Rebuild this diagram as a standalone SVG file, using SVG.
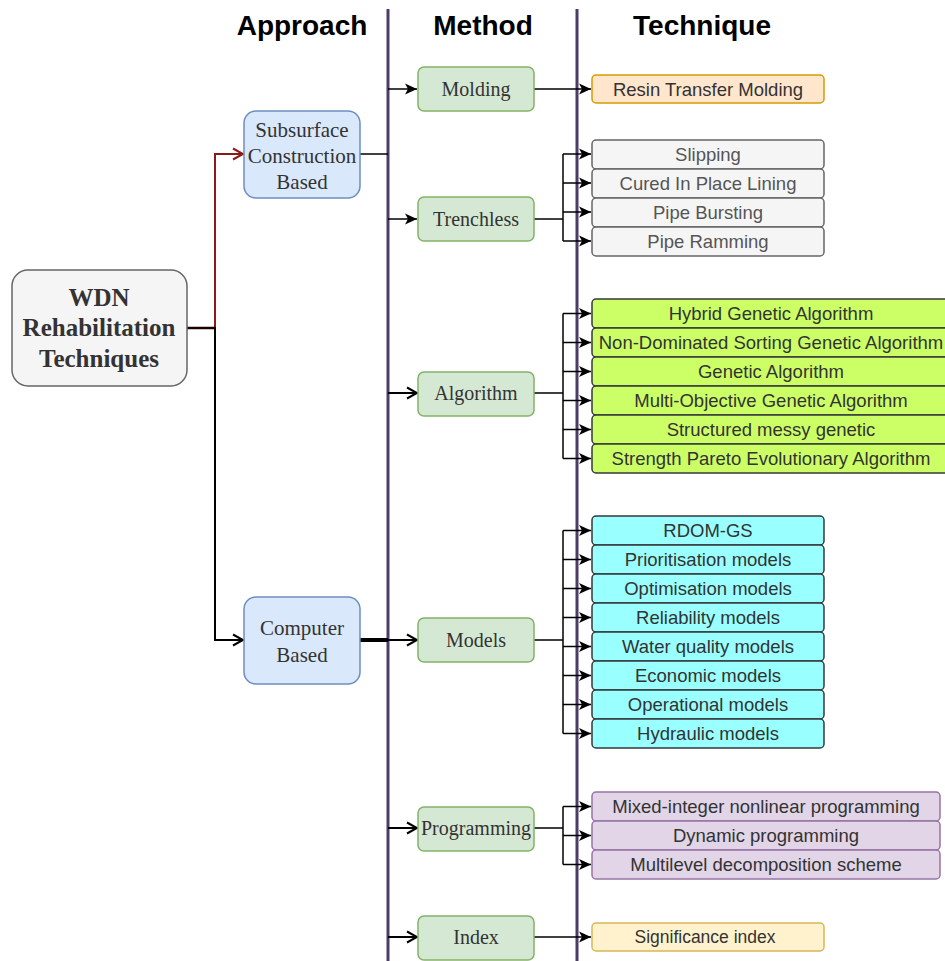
<svg xmlns="http://www.w3.org/2000/svg" width="945" height="961" viewBox="0 0 945 961">
<defs>
<style>
.hdr{font-family:"Liberation Sans",Arial,sans-serif;font-weight:bold;font-size:28px;fill:#000;text-anchor:middle}
.ser{font-family:"Liberation Serif","Times New Roman",serif;fill:#333;text-anchor:middle}
.tech{font-family:"Liberation Sans",Arial,sans-serif;font-size:18.5px;fill:#333;text-anchor:middle}
.app{fill:#dae8fc;stroke:#6c8ebf;stroke-width:1.5}
.meth{fill:#d5e8d4;stroke:#82b366;stroke-width:1.5}
.gray{fill:#f5f5f5;stroke:#666;stroke-width:1.5}
.green{fill:#ccff66;stroke:#36393d;stroke-width:1.5}
.cyan{fill:#99ffff;stroke:#36393d;stroke-width:1.5}
.purp{fill:#e1d5e7;stroke:#9673a6;stroke-width:1.5}
.lane{stroke:#4d3c66;stroke-width:3;fill:none}
.thin{stroke:#000;stroke-width:1.5;fill:none}
.thick{stroke:#000;stroke-width:2;fill:none}
</style>
<marker id="fa" markerUnits="userSpaceOnUse" markerWidth="14" markerHeight="14" viewBox="0 0 14 14" refX="13" refY="7" orient="auto">
<path d="M1,1.5 L13,7 L1,12.5 L4,7 Z" fill="#000"/>
</marker>
<marker id="oa" markerUnits="userSpaceOnUse" markerWidth="14" markerHeight="14" viewBox="0 0 14 14" refX="12" refY="7" orient="auto">
<path d="M2,1.5 L12,7 L2,12.5" fill="none" stroke="#000" stroke-width="2"/>
</marker>
<marker id="oar" markerUnits="userSpaceOnUse" markerWidth="14" markerHeight="14" viewBox="0 0 14 14" refX="12" refY="7" orient="auto">
<path d="M2,1.5 L12,7 L2,12.5" fill="none" stroke="#8b1a1a" stroke-width="2"/>
</marker>
</defs>
<rect width="945" height="961" fill="#fff"/>

<g id="headers">
<text class="hdr" x="302" y="35">Approach</text>
<text class="hdr" x="483" y="35">Method</text>
<text class="hdr" x="702" y="35">Technique</text>
</g>

<g id="lanes">
<line class="lane" x1="388" y1="9" x2="388" y2="961"/>
<line class="lane" x1="577" y1="9" x2="577" y2="961"/>
</g>

<g id="connectors">
<path d="M187,328 H215 V154 H243" fill="none" stroke="#8b1a1a" stroke-width="2" marker-end="url(#oar)"/>
<path d="M187,328 H215 V640 H243" class="thick" marker-end="url(#oa)"/>
<line x1="187" y1="328" x2="215" y2="328" stroke="#1a0000" stroke-width="2.5"/>
<line class="thin" x1="360" y1="154" x2="388" y2="154"/>
<line x1="360" y1="640" x2="388" y2="640" stroke="#000" stroke-width="4"/>
<line class="thin" x1="388" y1="89" x2="417" y2="89" marker-end="url(#fa)"/>
<line class="thin" x1="388" y1="219" x2="417" y2="219" marker-end="url(#fa)"/>
<line class="thick" x1="388" y1="393" x2="417" y2="393" marker-end="url(#oa)"/>
<line class="thick" x1="388" y1="640" x2="417" y2="640" marker-end="url(#oa)"/>
<line class="thick" x1="388" y1="828" x2="417" y2="828" marker-end="url(#oa)"/>
<line class="thick" x1="388" y1="937" x2="417" y2="937" marker-end="url(#oa)"/>
<line class="thin" x1="534" y1="89" x2="591" y2="89" marker-end="url(#fa)"/>
<line class="thin" x1="534" y1="937" x2="591" y2="937" marker-end="url(#fa)"/>
<path class="thin" d="M534,219 H563"/>
<path class="thin" d="M563,154 V241"/>
<path class="thin" d="M563,154 H591" marker-end="url(#fa)"/>
<path class="thin" d="M563,183 H591" marker-end="url(#fa)"/>
<path class="thin" d="M563,212 H591" marker-end="url(#fa)"/>
<path class="thin" d="M563,241 H591" marker-end="url(#fa)"/>
<path class="thin" d="M534,393 H563 M563,313.5 V458.5"/>
<path class="thin" d="M563,313.5 H591" marker-end="url(#fa)"/>
<path class="thin" d="M563,342.5 H591" marker-end="url(#fa)"/>
<path class="thin" d="M563,371.5 H591" marker-end="url(#fa)"/>
<path class="thin" d="M563,400.5 H591" marker-end="url(#fa)"/>
<path class="thin" d="M563,429.5 H591" marker-end="url(#fa)"/>
<path class="thin" d="M563,458.5 H591" marker-end="url(#fa)"/>
<path class="thin" d="M534,640 H563 M563,530.5 V733.5"/>
<path class="thin" d="M563,530.5 H591" marker-end="url(#fa)"/>
<path class="thin" d="M563,559.5 H591" marker-end="url(#fa)"/>
<path class="thin" d="M563,588.5 H591" marker-end="url(#fa)"/>
<path class="thin" d="M563,617.5 H591" marker-end="url(#fa)"/>
<path class="thin" d="M563,646.5 H591" marker-end="url(#fa)"/>
<path class="thin" d="M563,675.5 H591" marker-end="url(#fa)"/>
<path class="thin" d="M563,704.5 H591" marker-end="url(#fa)"/>
<path class="thin" d="M563,733.5 H591" marker-end="url(#fa)"/>
<path class="thin" d="M534,828 H563 M563,806.5 V864.5"/>
<path class="thin" d="M563,806.5 H591" marker-end="url(#fa)"/>
<path class="thin" d="M563,835.5 H591" marker-end="url(#fa)"/>
<path class="thin" d="M563,864.5 H591" marker-end="url(#fa)"/>
</g>

<g id="wdn">
<rect x="12" y="270" width="175" height="116" rx="16" fill="#f5f5f5" stroke="#666" stroke-width="1.5"/>
<text class="ser" x="99" y="306" font-size="25" font-weight="bold">WDN</text>
<text class="ser" x="99" y="336" font-size="25" font-weight="bold">Rehabilitation</text>
<text class="ser" x="99" y="367" font-size="25" font-weight="bold">Techniques</text>
</g>

<g id="subsurface">
<rect class="app" x="244" y="111" width="116" height="87" rx="12"/>
<text class="ser" x="302" y="137" font-size="21">Subsurface</text>
<text class="ser" x="302" y="163" font-size="21">Construction</text>
<text class="ser" x="302" y="189" font-size="21">Based</text>
</g>

<g id="computer">
<rect class="app" x="244" y="597" width="116" height="87" rx="12"/>
<text class="ser" x="302" y="635" font-size="21">Computer</text>
<text class="ser" x="302" y="662" font-size="21">Based</text>
</g>

<g id="molding"><rect class="meth" x="418" y="67" width="116" height="44" rx="6"/><text class="ser" x="476" y="96" font-size="20">Molding</text></g>
<g id="trenchless"><rect class="meth" x="418" y="197" width="116" height="44" rx="6"/><text class="ser" x="476" y="226" font-size="20">Trenchless</text></g>
<g id="algorithm"><rect class="meth" x="418" y="372" width="116" height="44" rx="6"/><text class="ser" x="476" y="400" font-size="20">Algorithm</text></g>
<g id="models"><rect class="meth" x="418" y="618" width="116" height="44" rx="6"/><text class="ser" x="476" y="647" font-size="20">Models</text></g>
<g id="programming"><rect class="meth" x="418" y="807" width="116" height="44" rx="6"/><text class="ser" x="476" y="835" font-size="20">Programming</text></g>
<g id="index"><rect class="meth" x="418" y="916" width="116" height="44" rx="6"/><text class="ser" x="476" y="944" font-size="20">Index</text></g>

<g id="resin"><rect x="592" y="75" width="232" height="28" rx="4" fill="#ffe6cc" stroke="#d79b00" stroke-width="1.5"/><text class="tech" x="708" y="95.5">Resin Transfer Molding</text></g>

<g id="slipping"><rect class="gray" x="592" y="140" width="232" height="29" rx="4"/><text class="tech" x="708" y="161" style="fill:#555">Slipping</text></g>
<g id="cured"><rect class="gray" x="592" y="169" width="232" height="29" rx="4"/><text class="tech" x="708" y="190" style="fill:#555">Cured In Place Lining</text></g>
<g id="bursting"><rect class="gray" x="592" y="198" width="232" height="29" rx="4"/><text class="tech" x="708" y="219" style="fill:#555">Pipe Bursting</text></g>
<g id="ramming"><rect class="gray" x="592" y="227" width="232" height="29" rx="4"/><text class="tech" x="708" y="248" style="fill:#555">Pipe Ramming</text></g>

<g id="hybrid"><rect class="green" x="592" y="299" width="358" height="29" rx="4"/><text class="tech" x="771" y="320">Hybrid Genetic Algorithm</text></g>
<g id="nsga"><rect class="green" x="592" y="328" width="358" height="29" rx="4"/><text class="tech" x="771" y="349">Non-Dominated Sorting Genetic Algorithm</text></g>
<g id="ga"><rect class="green" x="592" y="357" width="358" height="29" rx="4"/><text class="tech" x="771" y="378">Genetic Algorithm</text></g>
<g id="moga"><rect class="green" x="592" y="386" width="358" height="29" rx="4"/><text class="tech" x="771" y="407">Multi-Objective Genetic Algorithm</text></g>
<g id="smg"><rect class="green" x="592" y="415" width="358" height="29" rx="4"/><text class="tech" x="771" y="436">Structured messy genetic</text></g>
<g id="spea"><rect class="green" x="592" y="444" width="358" height="29" rx="4"/><text class="tech" x="771" y="465">Strength Pareto Evolutionary Algorithm</text></g>

<g id="rdom"><rect class="cyan" x="592" y="516" width="232" height="29" rx="4"/><text class="tech" x="708" y="537">RDOM-GS</text></g>
<g id="prior"><rect class="cyan" x="592" y="545" width="232" height="29" rx="4"/><text class="tech" x="708" y="566">Prioritisation models</text></g>
<g id="optim"><rect class="cyan" x="592" y="574" width="232" height="29" rx="4"/><text class="tech" x="708" y="595">Optimisation models</text></g>
<g id="reliab"><rect class="cyan" x="592" y="603" width="232" height="29" rx="4"/><text class="tech" x="708" y="624">Reliability models</text></g>
<g id="water"><rect class="cyan" x="592" y="632" width="232" height="29" rx="4"/><text class="tech" x="708" y="653">Water quality models</text></g>
<g id="econ"><rect class="cyan" x="592" y="661" width="232" height="29" rx="4"/><text class="tech" x="708" y="682">Economic models</text></g>
<g id="oper"><rect class="cyan" x="592" y="690" width="232" height="29" rx="4"/><text class="tech" x="708" y="711">Operational models</text></g>
<g id="hydr"><rect class="cyan" x="592" y="719" width="232" height="29" rx="4"/><text class="tech" x="708" y="740">Hydraulic models</text></g>

<g id="minlp"><rect class="purp" x="592" y="792" width="348" height="29" rx="4"/><text class="tech" x="766" y="813">Mixed-integer nonlinear programming</text></g>
<g id="dynprog"><rect class="purp" x="592" y="821" width="348" height="29" rx="4"/><text class="tech" x="766" y="842">Dynamic programming</text></g>
<g id="multilevel"><rect class="purp" x="592" y="850" width="348" height="29" rx="4"/><text class="tech" x="766" y="871">Multilevel decomposition scheme</text></g>

<g id="signif"><rect x="592" y="923" width="232" height="28" rx="4" fill="#fff2cc" stroke="#d6b656" stroke-width="1.5"/><text class="tech" x="705" y="943" style="font-size:17.5px">Significance index</text></g>
</svg>
